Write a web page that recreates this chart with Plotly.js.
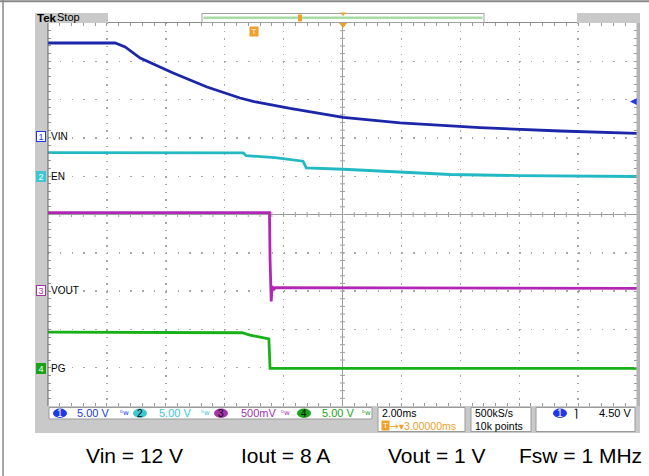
<!DOCTYPE html>
<html><head><meta charset="utf-8">
<script src="https://cdn.plot.ly/plotly-3.0.1.min.js"></script>
<style>html,body{margin:0;padding:0;background:#fff;}#chart{width:649px;height:476px;}</style>
</head><body><div id="chart"></div>
<script>
// ---- data (time in ms relative to trigger, values in volts) ----
const vinTime  = [-7.0, -4.72, -4.38, -3.87, -2.75, -1.60, -0.48, 0.00, 1.22, 3.02, 4.96, 7.67, 10.39, 13.0];
const vinVolts = [12.14, 12.14, 11.62, 10.18, 8.22, 6.40, 4.96, 4.50, 3.59, 2.42, 1.70, 1.08, 0.65, 0.35];

const enTime  = [-7.0, -0.37, -0.27, 0.71, 1.66, 1.77, 3.02, 4.96, 6.66, 9.0, 13.0];
const enVolts = [3.07, 3.04, 2.68, 2.42, 1.96, 1.08, 0.91, 0.59, 0.22, 0.07, -0.04];

const voutTime  = [-7.0, 0.52, 0.54, 0.57, 0.58, 0.61, 0.66, 0.72, 13.0];
const voutVolts = [1.01, 1.01, 0.40, -0.05, -0.15, 0.05, 0.00, 0.03, 0.02];

const pgTime  = [-7.0, -0.41, -0.14, 0.43, 0.50, 0.54, 13.0];
const pgVolts = [4.70, 4.61, 4.31, 3.88, 3.80, -0.04, -0.04];

const channelNames = ['VIN', 'EN', 'VOUT', 'PG'];
const channelScales = ['5.00 V', '5.00 V', '500mV', '5.00 V'];
const triggerLevel = 4.5;
const bottomNotes = ['Vin = 12 V', 'Iout = 8 A', 'Vout = 1 V', 'Fsw = 1 MHz'];

// ---- styling ----
const C = {
  vin:'#1b27a8', en:'#22b9c4', vout:'#b226b6', pg:'#17b117',
  vinL:'#2038e8', enL:'#3cc8d2', voutL:'#a632aa', pgL:'#18a418',
  orange:'#f0a028', frame:'#c9c9c9'
};
const PL=48, PR=637, PT=23, PB=406;
const px = x => (x-PL)/(PR-PL);
const py = y => (PB-y)/(PB-PT);

const tr = (x,y,ax,col) => ({x:x, y:y, yaxis:ax, type:'scatter', mode:'lines',
  line:{color:col, width:2.8}, hoverinfo:'skip', showlegend:false});
const traces = [
  tr(vinTime, vinVolts, 'y2', C.vin),
  tr(enTime, enVolts, 'y3', C.en),
  tr(voutTime, voutVolts, 'y4', C.vout),
  tr(pgTime, pgVolts, 'y5', C.pg)
];

const shapes = [];
const rectP = (x0,y0,x1,y1,fill,line,lw) => shapes.push({type:'rect', xref:'paper', yref:'paper',
  x0:px(x0), x1:px(x1), y0:py(y0), y1:py(y1), fillcolor:fill||'rgba(0,0,0,0)',
  line:{color:line||'rgba(0,0,0,0)', width:lw||0}, layer:'above'});
const lineP = (x0,y0,x1,y1,col,w) => shapes.push({type:'line', xref:'paper', yref:'paper',
  x0:px(x0), x1:px(x1), y0:py(y0), y1:py(y1), line:{color:col, width:w}, layer:'above'});

// outer document border
lineP(0,1.2,649,1.2,'#8a8a8a',2);
lineP(3,0,3,476,'#8a8a8a',1.5);
// scope frame
rectP(35,13,48,433,C.frame);
rectP(35,406,640,433,C.frame);
rectP(636.5,13,640,406,'#b4b4b4');
rectP(35,13,108,23,C.frame);
rectP(577,13,640,23,C.frame);
lineP(48,23,48,406,'#606060',1);
// record bar
rectP(202,13.5,484,22.5,'#ffffff','#a0a0a0',1);
lineP(203.5,17.8,482.5,17.8,'#a8dca8',2.5);
rectP(298,14.5,302,21.5,C.orange);
shapes.push({type:'path', xref:'paper', yref:'paper', fillcolor:C.orange, line:{width:0},
  path:`M${px(340)},${py(12.5)} L${px(346)},${py(12.5)} L${px(343)},${py(16)} Z`});
shapes.push({type:'path', xref:'paper', yref:'paper', fillcolor:C.orange, line:{width:0},
  path:`M${px(339)},${py(23)} L${px(347)},${py(23)} L${px(343)},${py(28)} Z`});

// centre cross with minor ticks
shapes.push({type:'line', xref:'x', yref:'paper', x0:3, x1:3, y0:0, y1:1, line:{color:'#9c9c9c', width:1}, layer:'below'});
shapes.push({type:'line', xref:'paper', yref:'y', x0:0, x1:1, y0:0, y1:0, line:{color:'#9c9c9c', width:1}, layer:'below'});
for (let i=1;i<50;i++){
  const t=-7+i*0.4;
  shapes.push({type:'line', xref:'x', yref:'y', xsizemode:'scaled', ysizemode:'pixel', yanchor:0,
    x0:t, x1:t, y0:-2.5, y1:2.5, line:{color:'#9c9c9c', width:1}, layer:'below'});
  const d=-5+i*0.2;
  shapes.push({type:'line', xref:'x', yref:'y', xsizemode:'pixel', xanchor:3,
    x0:-2.5, x1:2.5, y0:d, y1:d, line:{color:'#9c9c9c', width:1}, layer:'below'});
}

// bottom legend boxes
rectP(49,407.5,372,419,'#ffffff','#9a9a9a',1);
rectP(378,407.5,465,431.5,'#ffffff','#9a9a9a',1);
rectP(471,407.5,531,431.5,'#ffffff','#9a9a9a',1);
rectP(536,407.5,635,431.5,'#ffffff','#9a9a9a',1);
const ovals = [[60,C.vinL],[140,C.enL],[221,C.voutL],[304,C.pgL],[560,C.vinL]];
ovals.forEach(o=>shapes.push({type:'circle', xref:'paper', yref:'paper',
  x0:px(o[0]-7), x1:px(o[0]+7), y0:py(408.5), y1:py(418), fillcolor:o[1], line:{width:0}, layer:'above'}));

// ---- annotations ----
const ann = [];
const FONT = 'Liberation Sans, Arial, sans-serif';
const txt = (x,y,t,opt) => ann.push(Object.assign({xref:'paper', yref:'paper', x:px(x), y:py(y), text:t,
  showarrow:false, xanchor:'left', yanchor:'middle', borderpad:0,
  font:{family:FONT, size:11, color:'#000'}}, opt||{}));

txt(35.5,18,'<b>Tek</b>',{font:{family:FONT, size:11.5, color:'#000'}});
txt(56,17.5,'Stop',{font:{family:FONT, size:11, color:'#000'}});

// channel ground markers + names
const markerY = [136,176,290,368];
const markerStyle = [
  {bg:'#ffffff', bd:C.vinL, fc:C.vinL},
  {bg:C.enL, bd:C.enL, fc:'#ffffff'},
  {bg:'#ffffff', bd:C.voutL, fc:C.voutL},
  {bg:C.pgL, bd:C.pgL, fc:'#ffffff'}
];
channelNames.forEach((n,i)=>{
  ann.push({xref:'paper', yref:'paper', x:px(41), y:py(markerY[i]), text:String(i+1), showarrow:false,
    xanchor:'center', yanchor:'middle', bgcolor:markerStyle[i].bg, bordercolor:markerStyle[i].bd,
    borderwidth:1, borderpad:0, width:8, height:9,
    font:{family:FONT, size:9, color:markerStyle[i].fc}});
  txt(50,markerY[i],n,{font:{family:FONT, size:10, color:'#000'}});
});

// legend row
const ovalText = [[60,'1','#fff'],[140,'2','#000'],[221,'3','#000'],[304,'4','#000'],[560,'1','#fff']];
ovalText.forEach(o=>txt(o[0],413.3,o[1],{xanchor:'center', font:{family:FONT, size:10, color:o[2]}}));
const scaleX=[76,158,240,321], scaleCol=[C.vinL,C.enL,C.voutL,C.pgL], bwX=[124,205,285,366];
channelScales.forEach((s,i)=>{
  txt(scaleX[i],413.3,s,{font:{family:FONT, size:11, color:scaleCol[i]}});
  txt(bwX[i],413,'ᵇw',{xanchor:'center', font:{family:'DejaVu Sans, sans-serif', size:7, color:scaleCol[i]}});
});
txt(381,413,'2.00ms',{font:{family:FONT, size:10.5, color:'#000'}});
ann.push({xref:'paper', yref:'paper', x:px(385), y:py(425.5), text:'T', showarrow:false, xanchor:'center', yanchor:'middle',
  bgcolor:C.orange, borderpad:0, width:7, height:9, font:{family:FONT, size:8, color:'#fff'}});
txt(389,425.5,'<span style="font-family:DejaVu Sans">→▾</span>3.00000ms',{font:{family:FONT, size:10.5, color:C.orange}});
txt(474,413,'500kS/s',{font:{family:FONT, size:10.5, color:'#000'}});
txt(474,425.5,'10k points',{font:{family:FONT, size:10.5, color:'#000'}});
txt(576,413,'⌉',{xanchor:'center', font:{family:'DejaVu Sans, sans-serif', size:11, color:'#000'}});
txt(632,413.3,'4.50 V',{xanchor:'right'});

// trigger marker at t=0 and trigger level arrow
ann.push({xref:'x', yref:'paper', x:0, y:py(31.5), text:'T', showarrow:false, xanchor:'center', yanchor:'middle',
  bgcolor:C.orange, borderpad:0, width:8, height:9, font:{family:FONT, size:8, color:'#fff'}});
ann.push({xref:'paper', yref:'y2', x:px(630), y:triggerLevel, ax:7, ay:0, text:'', showarrow:true,
  arrowhead:2, arrowsize:0.9, arrowwidth:1.5, arrowcolor:C.vinL});

// bottom notes
const noteX=[134.5,285,437,580];
bottomNotes.forEach((n,i)=>txt(noteX[i],455,n,{xanchor:'center',
  font:{family:FONT, size:21, color:'#000'}}));

const gridAx = (rng,t0,dt,mdt,dash) => ({range:rng, tickmode:'linear', tick0:t0, dtick:dt,
  showticklabels:false, showgrid:true, gridcolor:'#a6a6a6', gridwidth:1.4, griddash:dash,
  zeroline:false, showline:true, linecolor:'#8c8c8c', linewidth:1, mirror:'ticks',
  ticks:'inside', ticklen:3, tickcolor:'#9a9a9a', tickwidth:1,
  minor:{tickmode:'linear', tick0:t0, dtick:mdt, ticks:'inside', ticklen:3, tickcolor:'#9a9a9a', tickwidth:1, showgrid:false},
  fixedrange:true});

const layout = {
  width:649, height:476, margin:{l:PL, r:649-PR, t:PT, b:476-PB, pad:0},
  paper_bgcolor:'#ffffff', plot_bgcolor:'#ffffff', showlegend:false,
  xaxis: gridAx([-7,13], -7, 2, 0.4, '1.4px,6.26px'),
  yaxis: gridAx([-5,5], -5, 1, 0.2, '1.4px,10.38px'),
  yaxis2:{overlaying:'y', range:[-35.25,14.75], visible:false, fixedrange:true},
  yaxis3:{overlaying:'y', range:[-30,20], visible:false, fixedrange:true},
  yaxis4:{overlaying:'y', range:[-1.515,3.485], visible:false, fixedrange:true},
  yaxis5:{overlaying:'y', range:[-4.95,45.05], visible:false, fixedrange:true},
  shapes:shapes, annotations:ann
};
Plotly.newPlot('chart', traces, layout, {staticPlot:true, displayModeBar:false});
</script></body></html>
